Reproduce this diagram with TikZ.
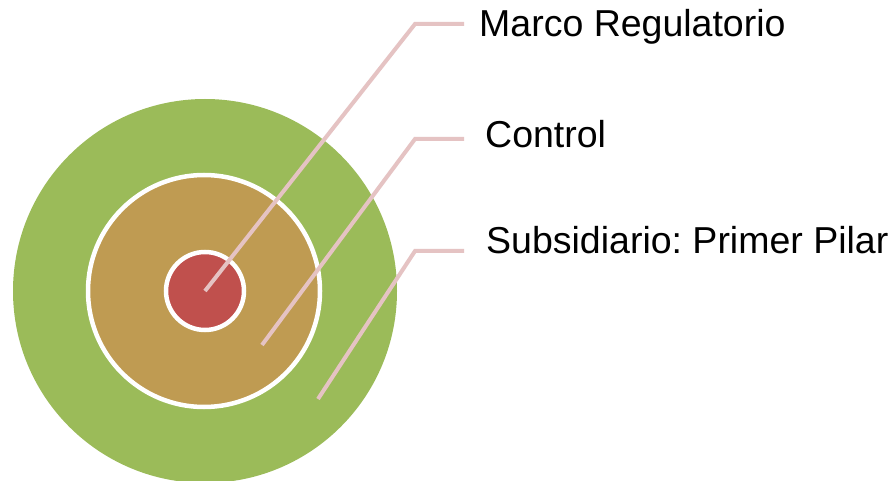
\documentclass[tikz,border=0pt]{standalone}
\usepackage{fontspec}
\setmainfont{Liberation Sans}
\frenchspacing
\definecolor{ringgreen}{HTML}{9BBB59}
\definecolor{ringtan}{HTML}{BF9B52}
\definecolor{ringred}{HTML}{C0504D}
\definecolor{leader}{HTML}{E5C3C3}
\tikzset{
  ring/.style={circle, inner sep=0pt, draw=white, line width=4.5pt},
  leaderline/.style={draw=leader, line width=4pt, line join=miter},
  lbl/.style={anchor=base west, inner sep=0pt, font=\fontsize{37.5}{44}\selectfont, text=black}
}
\begin{document}
\begin{tikzpicture}[x=1pt, y=-1pt]
\useasboundingbox (0,0) rectangle (892,481);
\fill[white] (0,0) rectangle (892,481);
\node[ring, fill=ringgreen, draw=none, minimum size=384pt] (outer) at (205,291) {};
\node[ring, fill=ringtan, minimum size=232pt] (middle) at (204,291) {};
\node[ring, fill=ringred, minimum size=78pt] (inner) at (205,291) {};
\coordinate (p1) at (205,291);
\coordinate (p2) at (262,345);
\coordinate (p3) at (318,399);
\node[lbl] (t1) at (479,37) {Marco Regulatorio};
\node[lbl] (t2) at (485,148) {Control};
\node[lbl] (t3) at (486,254) {Subsidiario: Primer Pilar};
\coordinate (b1) at (415,24);
\coordinate (b2) at (415,139);
\coordinate (b3) at (415,251);
\coordinate (e1) at (464,24);
\coordinate (e2) at (464,139);
\coordinate (e3) at (464,251);
\draw[leaderline] (p1) -- (b1) -- (e1);
\draw[leaderline] (p2) -- (b2) -- (e2);
\draw[leaderline] (p3) -- (b3) -- (e3);
\end{tikzpicture}
\end{document}
